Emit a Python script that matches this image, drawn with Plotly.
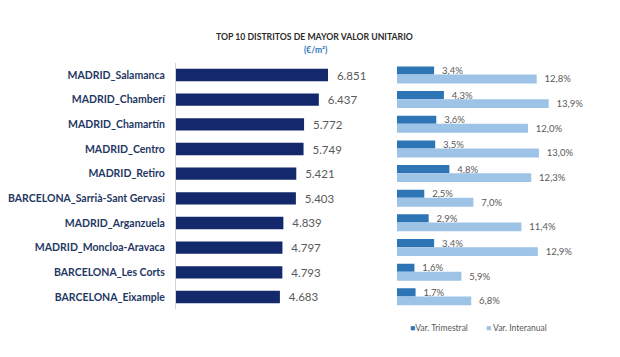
import plotly.graph_objects as go

districts = ["MADRID_Salamanca", "MADRID_Chamberí", "MADRID_Chamartín", "MADRID_Centro",
             "MADRID_Retiro", "BARCELONA_Sarrià-Sant Gervasi", "MADRID_Arganzuela",
             "MADRID_Moncloa-Aravaca", "BARCELONA_Les Corts", "BARCELONA_Eixample"]
valor_unitario = [6851, 6437, 5772, 5749, 5421, 5403, 4839, 4797, 4793, 4683]
var_trimestral = [3.4, 4.3, 3.6, 3.5, 4.8, 2.5, 2.9, 3.4, 1.6, 1.7]
var_interanual = [12.8, 13.9, 12.0, 13.0, 12.3, 7.0, 11.4, 12.9, 5.9, 6.8]

NAVY = "#13296B"
MID = "#2E75B6"
LIGHT = "#9DC3E6"
GRAY = "#595959"
FONT = "Lato"
SP = "\u00a0\u00a0"

# page body has an 8px margin; figure is sized to fit the window
OFF = 8
W, H = 620 - OFF, 357 - OFF


def px(x):
    return (x - OFF) / W


def py(y):
    return (H - (y - OFF)) / H


ydom = [py(309.3), py(62.7)]

fig = go.Figure()
fig.add_trace(go.Bar(
    y=districts, x=valor_unitario, orientation="h", width=0.5,
    marker=dict(color=NAVY, line=dict(width=0)),
    texttemplate=SP + "%{x:,}", textposition="outside", constraintext="none", cliponaxis=False,
    textfont=dict(family=FONT, size=11.5, color=GRAY),
    xaxis="x", yaxis="y", showlegend=False, hoverinfo="skip"))
fig.add_trace(go.Bar(
    y=districts, x=var_trimestral, orientation="h", offset=-0.35, width=0.33,
    marker=dict(color=MID, line=dict(width=0)), name="Var. Trimestral",
    texttemplate=SP + "%{x:.1f}%", textposition="outside", constraintext="none", cliponaxis=False,
    textfont=dict(family=FONT, size=9.5, color=GRAY),
    xaxis="x2", yaxis="y2", showlegend=False, hoverinfo="skip"))
fig.add_trace(go.Bar(
    y=districts, x=var_interanual, orientation="h", offset=-0.02, width=0.36,
    marker=dict(color=LIGHT, line=dict(width=0)), name="Var. Interanual",
    texttemplate=SP + "%{x:.1f}%", textposition="outside", constraintext="none", cliponaxis=False,
    textfont=dict(family=FONT, size=9.5, color=GRAY),
    xaxis="x2", yaxis="y2", showlegend=False, hoverinfo="skip"))

fig.update_layout(
    template="none",
    width=W, height=H, autosize=False,
    margin=dict(l=0, r=0, t=0, b=0),
    paper_bgcolor="white", plot_bgcolor="white",
    barmode="overlay", separators=",.",
    font=dict(family=FONT, color=GRAY),
    xaxis=dict(domain=[px(176), px(375.7)], range=[0, 9000], visible=False, anchor="y",
               automargin=False),
    yaxis=dict(domain=ydom, anchor="x", type="category", categoryorder="array",
               categoryarray=districts, autorange="reversed", automargin=False,
               showline=True, linecolor="#D5D5D5", linewidth=1, showgrid=False, zeroline=False,
               ticks="", ticklabelstandoff=8,
               tickfont=dict(family=FONT, size=10.5, color="#1F3864", weight="bold")),
    xaxis2=dict(domain=[px(397), px(612)], range=[0, 19.7], visible=False, anchor="y2",
                automargin=False),
    yaxis2=dict(domain=ydom, anchor="x2", type="category", categoryorder="array",
                categoryarray=districts, autorange="reversed", automargin=False,
                showline=False, showgrid=False, zeroline=False, showticklabels=False, ticks=""),
    annotations=[
        dict(text="<b>TOP 10 DISTRITOS DE MAYOR VALOR UNITARIO</b>", xref="paper", yref="paper",
             x=px(314), y=py(37), showarrow=False, xanchor="center", yanchor="middle",
             font=dict(family=FONT, size=8.7, color="#2B2B2B")),
        dict(text="<b>(€/m²)</b>", xref="paper", yref="paper",
             x=px(316), y=py(50), showarrow=False, xanchor="center", yanchor="middle",
             font=dict(family=FONT, size=8.5, color=MID)),
        dict(text=f"<span style='color:{MID}'>■</span>Var. Trimestral", xref="paper", yref="paper",
             x=px(408), y=py(328), showarrow=False, xanchor="left", yanchor="middle",
             font=dict(family=FONT, size=8.5, color=GRAY)),
        dict(text=f"<span style='color:{LIGHT}'>■</span> Var. Interanual", xref="paper", yref="paper",
             x=px(484), y=py(328), showarrow=False, xanchor="left", yanchor="middle",
             font=dict(family=FONT, size=8.5, color=GRAY)),
    ],
)

fig.write_html("out.html")
